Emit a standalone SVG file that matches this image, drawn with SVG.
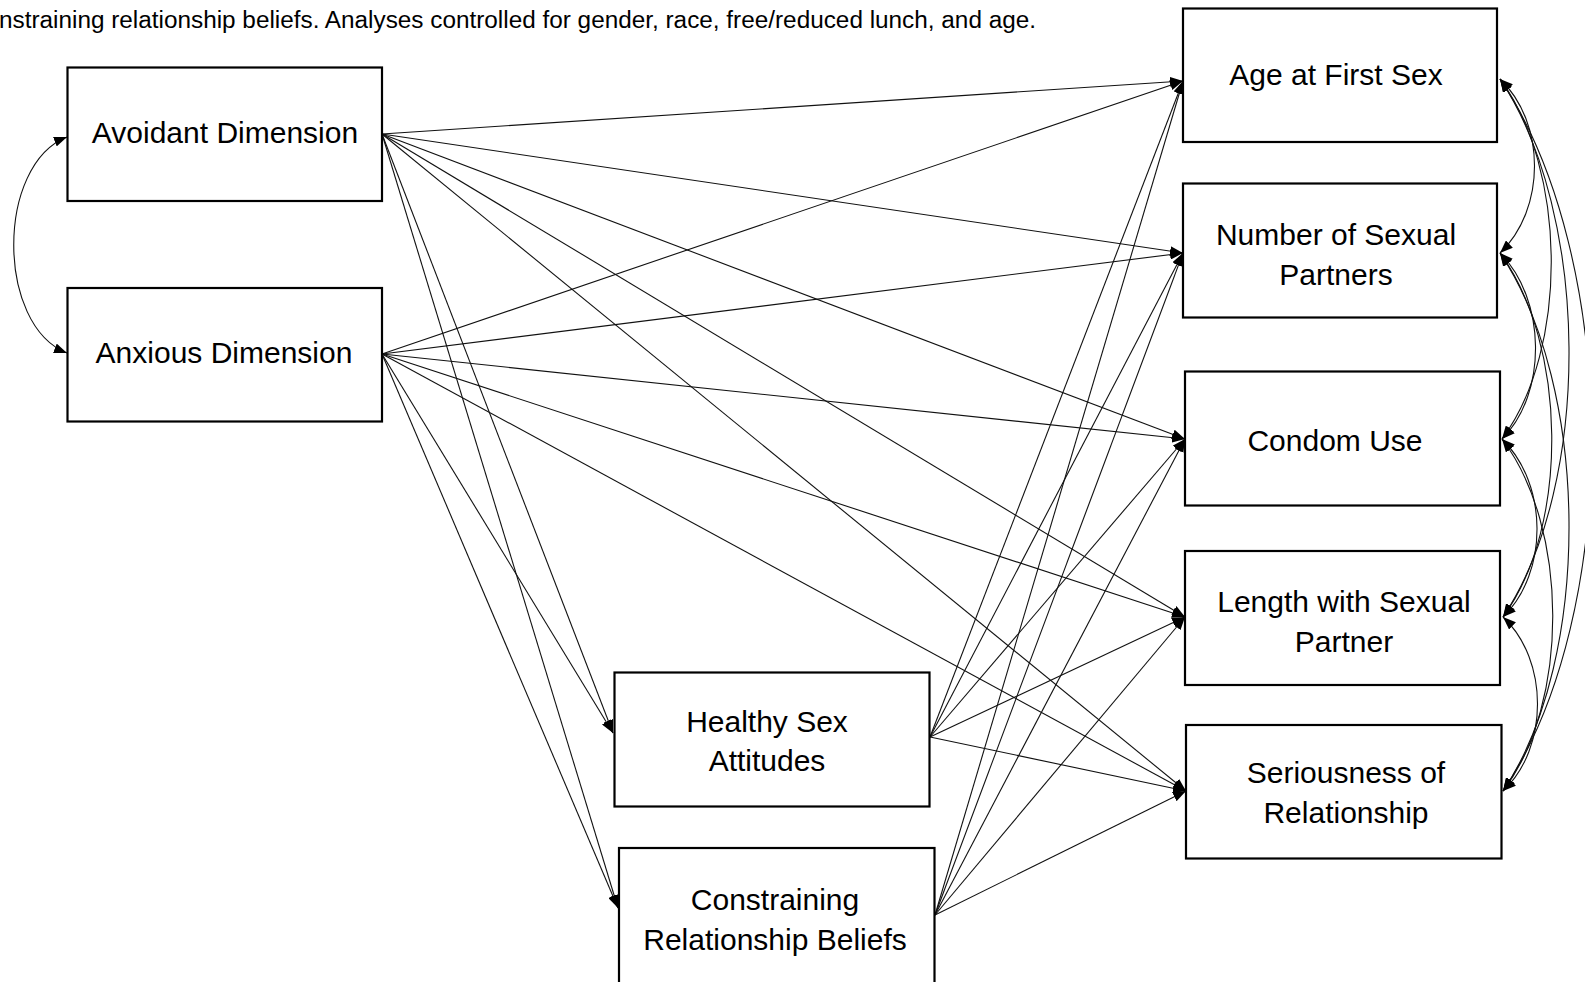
<svg xmlns="http://www.w3.org/2000/svg" width="1585" height="982" viewBox="0 0 1585 982">
<style>
.box{fill:#fff;stroke:#000;stroke-width:2.2}
.lbl{font-family:"Liberation Sans",Arial,sans-serif;font-size:30px;fill:#000;text-anchor:middle}
.cap{font-family:"Liberation Sans",Arial,sans-serif;font-size:23px;fill:#000}
.ln{fill:none;stroke:#111;stroke-width:1.1;marker-end:url(#ah)}
.arc{fill:none;stroke:#111;stroke-width:1.1;marker-start:url(#ah);marker-end:url(#ah)}
</style>
<defs>
<marker id="ah" viewBox="0 0 13 10" refX="13" refY="5" markerWidth="13" markerHeight="10" markerUnits="userSpaceOnUse" orient="auto-start-reverse">
<path d="M0,0 L13,5 L0,10 z" fill="#000"/>
</marker>
</defs>
<rect width="1585" height="982" fill="#fff"/>
<text class="cap" x="-1" y="28" textLength="1037" lengthAdjust="spacingAndGlyphs">nstraining relationship beliefs. Analyses controlled for gender, race, free/reduced lunch, and age.</text>

<g id="connectors">
<!-- Avoidant -->
<path class="ln" d="M382,134 L1183,81"/>
<path class="ln" d="M382,134 L1183,253"/>
<path class="ln" d="M382,134 L1185,439"/>
<path class="ln" d="M382,134 L1185,617"/>
<path class="ln" d="M382,134 L1186,791"/>
<path class="ln" d="M382,134 L613,733"/>
<path class="ln" d="M382,134 L618,908"/>
<!-- Anxious -->
<path class="ln" d="M382,354 L1183,81"/>
<path class="ln" d="M382,354 L1183,253"/>
<path class="ln" d="M382,354 L1185,439"/>
<path class="ln" d="M382,354 L1185,617"/>
<path class="ln" d="M382,354 L1186,791"/>
<path class="ln" d="M382,354 L613,733"/>
<path class="ln" d="M382,354 L618,908"/>
<!-- Healthy -->
<path class="ln" d="M930,737 L1183,81"/>
<path class="ln" d="M930,737 L1183,253"/>
<path class="ln" d="M930,737 L1185,439"/>
<path class="ln" d="M930,737 L1185,617"/>
<path class="ln" d="M930,737 L1186,791"/>
<!-- Constraining -->
<path class="ln" d="M935,915 L1183,81"/>
<path class="ln" d="M935,915 L1183,253"/>
<path class="ln" d="M935,915 L1185,439"/>
<path class="ln" d="M935,915 L1185,617"/>
<path class="ln" d="M935,915 L1186,791"/>
<!-- left covariance -->
<path class="arc" d="M67,137 C-4,165 -4,325 67,353"/>
<!-- right covariances -->
<path class="arc" d="M1500,79 C1546,123 1546,209 1500,253"/>
<path class="arc" d="M1500,79 C1567,169 1569,349 1502,439"/>
<path class="arc" d="M1500,79 C1590,214 1593,482 1503,617"/>
<path class="arc" d="M1500,79 C1620,257 1623,613 1503,791"/>
<path class="arc" d="M1500,253 C1546,299 1548,393 1502,439"/>
<path class="arc" d="M1500,253 C1567,344 1570,526 1503,617"/>
<path class="arc" d="M1500,253 C1590,387 1593,657 1503,791"/>
<path class="arc" d="M1502,439 C1548,484 1549,572 1503,617"/>
<path class="arc" d="M1502,439 C1569,527 1570,703 1503,791"/>
<path class="arc" d="M1503,617 C1549,660 1549,748 1503,791"/>
</g>

<g id="avoidant">
<rect class="box" x="67.5" y="67.5" width="314.5" height="133.5"/>
<text class="lbl" x="225" y="143">Avoidant Dimension</text>
</g>
<g id="anxious">
<rect class="box" x="67.5" y="288" width="314.5" height="133.5"/>
<text class="lbl" x="224" y="363">Anxious Dimension</text>
</g>
<g id="healthy">
<rect class="box" x="614.5" y="672.5" width="315" height="134"/>
<text class="lbl" x="767" y="732">Healthy Sex</text>
<text class="lbl" x="767" y="771">Attitudes</text>
</g>
<g id="constraining">
<rect class="box" x="619" y="848" width="315.5" height="145"/>
<text class="lbl" x="775" y="910">Constraining</text>
<text class="lbl" x="775" y="950">Relationship Beliefs</text>
</g>
<g id="age">
<rect class="box" x="1183" y="8.5" width="314" height="133.5"/>
<text class="lbl" x="1336" y="85">Age at First Sex</text>
</g>
<g id="partners">
<rect class="box" x="1183" y="183.5" width="314" height="134"/>
<text class="lbl" x="1336" y="245">Number of Sexual</text>
<text class="lbl" x="1336" y="285">Partners</text>
</g>
<g id="condom">
<rect class="box" x="1185" y="371.5" width="315" height="134"/>
<text class="lbl" x="1335" y="451">Condom Use</text>
</g>
<g id="length">
<rect class="box" x="1185" y="551" width="315" height="134"/>
<text class="lbl" x="1344" y="612">Length with Sexual</text>
<text class="lbl" x="1344" y="652">Partner</text>
</g>
<g id="seriousness">
<rect class="box" x="1186" y="725" width="315.5" height="133.5"/>
<text class="lbl" x="1346" y="783">Seriousness of</text>
<text class="lbl" x="1346" y="823">Relationship</text>
</g>
</svg>
